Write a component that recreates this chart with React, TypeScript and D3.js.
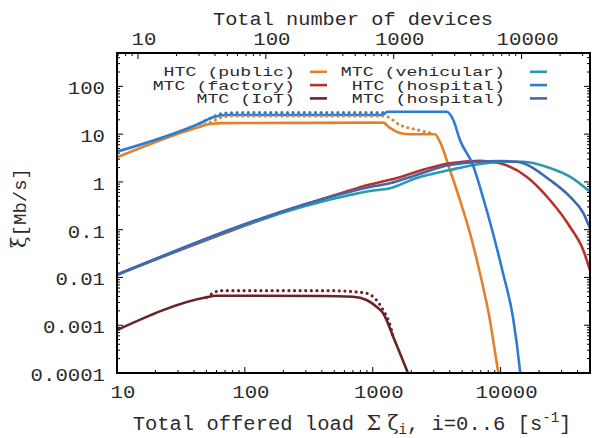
import React from "react";
import * as d3 from "d3";

type P = [number, number];

// x: total offered load [1/s], y: throughput xi [Mb/s]
const htcPublic: P[] = [[10,3.27],[44.6,14.3],[53.3,16.3],[67.4,17.0],[300,17.2],[1202,17.4],[1363,13.5],[1632,10.6],[1954,9.93],[3063,9.93],[3350,6.95],[4015,1.78],[4806,0.418],[5754,0.0853],[6887,0.0124],[8245,0.00129],[9532,0.000116],[9880,0.0000714]];
const htcPublicDot: P[] = [[44.6,14.3],[53.3,17.4],[67.4,23.0],[80,24.0],[1202,24.0],[1292,23.2],[1632,15.6],[2205,12.4],[2800,10.6],[3063,9.93]];
const mtcFactory: P[] = [[10,0.0115],[554,0.572],[951,0.883],[1246,1.045],[1632,1.25],[2205,1.637],[4014,2.455],[6890,2.78],[9875,2.455],[15970,1.286],[24290,0.418],[34830,0.1155],[44250,0.0376],[49920,0.0143]];
const mtcIoT: P[] = [[10,0.000794],[50.2,0.00385],[59.4,0.00415],[400,0.0041],[700,0.00396],[896,0.00337],[1069,0.00244],[1206,0.00178],[1445,0.000575],[1843,0.000116],[1954,0.0000786]];
const mtcIoTDot: P[] = [[50.2,0.00385],[53.3,0.0043],[63.8,0.00528],[489,0.00528],[700,0.00504],[896,0.00466],[1069,0.00337],[1206,0.00208],[1362,0.00104],[1445,0.000575]];
const mtcVehicular: P[] = [[10,0.0113],[663,0.532],[951,0.645],[1363,0.735],[2205,1.21],[4014,1.78],[6890,2.37],[11820,2.65],[14940,2.65],[24290,1.96],[34830,1.29],[49920,0.624]];
const htcHospital: P[] = [[10,4.29],[44.6,16.9],[56.3,22.5],[72.1,25.2],[1190,25.2],[1300,29.3],[1363,29.5],[3782,29.5],[4264,19.8],[4806,7.55],[6070,2.26],[7270,0.483],[8707,0.0853],[10430,0.0124],[12480,0.00149],[14150,0.000116],[14500,0.00006]];
const htcHospitalDot: P[] = [[44.6,16.9],[53.3,21.5],[67.8,27.3],[80,28.1],[1250,28.1],[1300,29.3]];
const mtcHospital: P[] = [[10,0.0115],[663,0.624],[951,0.783],[1363,0.935],[2205,1.40],[4014,2.26],[9875,2.74],[13340,2.65],[24290,1.10],[34830,0.491],[44250,0.224],[49920,0.108]];

const xDomain: P = [10, 50000];
const deviceRatio = 1.459; // offered load per device
const yDomain: P = [1e-4, 500];
const xTickLabels = [10, 100, 1000, 10000];
const x2TickLabels = [10, 100, 1000, 10000];
const yTickValues = [1e-4, 1e-3, 1e-2, 0.1, 1, 10, 100];
const yTickLabels = ["0.0001", "0.001", "0.01", "0.1", "1", "10", "100"];

const C = {
  orange: "#e3812b",
  teal: "#2a9ba8",
  red: "#b5312a",
  blue: "#2c7dd2",
  dark: "#6a2327",
  slate: "#4266b0",
};

const legendCol1 = [
  { label: "HTC (public)", color: C.orange },
  { label: "MTC (factory)", color: C.red },
  { label: "MTC (IoT)", color: C.dark },
];
const legendCol2 = [
  { label: "MTC (vehicular)", color: C.teal },
  { label: "HTC (hospital)", color: C.blue },
  { label: "MTC (hospital)", color: C.slate },
];

const W = 592, H = 438;
const L = 117, R = 590, T = 53, B = 373;
const FONT = "'Liberation Mono', 'DejaVu Sans Mono', monospace";
const TXT = "#2b2b2b";

function logMinors(lo: number, hi: number): number[] {
  const out: number[] = [];
  for (let e = -6; e <= 6; e++) {
    for (let k = 1; k <= 9; k++) {
      const v = k * Math.pow(10, e);
      if (v >= lo * 0.9999 && v <= hi * 1.0001) out.push(v);
    }
  }
  return out;
}

export default function App() {
  const x = d3.scaleLog().domain(xDomain).range([L, R]);
  const x2 = d3.scaleLog().domain([xDomain[0] / deviceRatio, xDomain[1] / deviceRatio]).range([L, R]);
  const y = d3.scaleLog().domain(yDomain).range([B, T]);
  const line = d3.line<P>().x(d => x(d[0])).y(d => y(d[1])).curve(d3.curveMonotoneX);

  const series = [
    { d: htcPublic, c: C.orange, dot: false },
    { d: mtcFactory, c: C.red, dot: false },
    { d: mtcIoT, c: C.dark, dot: false },
    { d: mtcVehicular, c: C.teal, dot: false },
    { d: htcHospital, c: C.blue, dot: false },
    { d: mtcHospital, c: C.slate, dot: false },
    { d: htcPublicDot, c: C.orange, dot: true },
    { d: htcHospitalDot, c: C.blue, dot: true },
    { d: mtcIoTDot, c: C.dark, dot: true },
  ];

  const isMajor = (v: number) => Math.abs(Math.log10(v) - Math.round(Math.log10(v))) < 1e-6;
  const xt = logMinors(xDomain[0], xDomain[1]);
  const x2t = logMinors(xDomain[0] / deviceRatio, xDomain[1] / deviceRatio);
  const yt = logMinors(yDomain[0], yDomain[1]);

  const rowY = [76.3, 89.6, 102.9];
  const legCharW = 10.95;

  return (
    <svg width={W} height={H} style={{ position: "absolute", left: 0, top: 0, background: "#fff" }}>
      <defs>
        <clipPath id="plot"><rect x={L} y={T} width={R - L} height={B - T} /></clipPath>
      </defs>
      <rect x={0} y={0} width={W} height={H} fill="#fff" />
      {/* ticks */}
      <g stroke="#000" strokeWidth={1}>
        {xt.map((v, i) => {
          const len = isMajor(v) ? 6 : 3;
          return <line key={"xb" + i} x1={x(v)} x2={x(v)} y1={B} y2={B - len} />;
        })}
        {x2t.map((v, i) => {
          const len = isMajor(v) ? 6 : 3;
          return <line key={"xt" + i} x1={x2(v)} x2={x2(v)} y1={T} y2={T + len} />;
        })}
        {yt.map((v, i) => {
          const len = isMajor(v) ? 6 : 3;
          return (
            <g key={"y" + i}>
              <line x1={L} x2={L + len} y1={y(v)} y2={y(v)} />
              <line x1={R} x2={R - len} y1={y(v)} y2={y(v)} />
            </g>
          );
        })}
      </g>
      {/* curves */}
      <g clipPath="url(#plot)" fill="none">
        {series.map((s, i) => (
          <path key={i} d={line(s.d) || ""} stroke={s.c}
            strokeWidth={s.dot ? 3.2 : 2.6}
            strokeLinecap="round" strokeLinejoin="round"
            strokeDasharray={s.dot ? "0 5.6" : undefined} />
        ))}
      </g>
      {/* frame */}
      <rect x={L} y={T} width={R - L} height={B - T} fill="none" stroke="#000" strokeWidth={2} />
      {/* tick labels */}
      <g fontFamily={FONT} fontSize={19} fill={TXT}>
        {xTickLabels.map(v => (
          <text key={"xl" + v} x={x(v) + 6} y={398} textAnchor="middle"
            textLength={String(v).length * 12.4} lengthAdjust="spacingAndGlyphs">{String(v)}</text>
        ))}
        {x2TickLabels.map(v => (
          <text key={"x2l" + v} x={x2(v) + 6} y={45} textAnchor="middle"
            textLength={String(v).length * 12.4} lengthAdjust="spacingAndGlyphs">{String(v)}</text>
        ))}
        {yTickValues.map((v, i) => (
          <text key={"yl" + i} x={105} y={y(v) + 8} textAnchor="end"
            textLength={yTickLabels[i].length * 12.4} lengthAdjust="spacingAndGlyphs">{yTickLabels[i]}</text>
        ))}
      </g>
      {/* titles */}
      <text x={353} y={24.5} textAnchor="middle" fontFamily={FONT} fontSize={18} fill={TXT}
        textLength={280} lengthAdjust="spacingAndGlyphs">Total number of devices</text>
      <text x={352} y={430} textAnchor="middle" fontFamily={FONT} fontSize={20.5} fill={TXT}>
        Total offered load <tspan fontFamily="'DejaVu Serif', serif">Σ ζ</tspan>
        <tspan fontSize={14} dy={4}>i</tspan>
        <tspan dy={-4}>, i=0..6 [s</tspan>
        <tspan fontSize={14} dy={-8}>-1</tspan>
        <tspan dy={8}>]</tspan>
      </text>
      <text transform="translate(26,208) rotate(-90)" textAnchor="middle" fontFamily={FONT} fontSize={19} fill={TXT}>
        <tspan fontFamily="'DejaVu Serif', serif" fontSize={21}>ξ</tspan>[Mb/s]
      </text>
      {/* legend */}
      <g fontFamily={FONT} fontSize={13} fill={TXT}>
        {legendCol1.map((e, i) => (
          <g key={"l1" + i}>
            <text x={295} y={rowY[i]} textAnchor="end"
              textLength={e.label.length * legCharW} lengthAdjust="spacingAndGlyphs">{e.label}</text>
            <line x1={310} x2={327} y1={rowY[i] - 4.5} y2={rowY[i] - 4.5} stroke={e.color} strokeWidth={2.6} />
          </g>
        ))}
        {legendCol2.map((e, i) => (
          <g key={"l2" + i}>
            <text x={505} y={rowY[i]} textAnchor="end"
              textLength={e.label.length * legCharW} lengthAdjust="spacingAndGlyphs">{e.label}</text>
            <line x1={530} x2={547} y1={rowY[i] - 4.5} y2={rowY[i] - 4.5} stroke={e.color} strokeWidth={2.6} />
          </g>
        ))}
      </g>
    </svg>
  );
}
